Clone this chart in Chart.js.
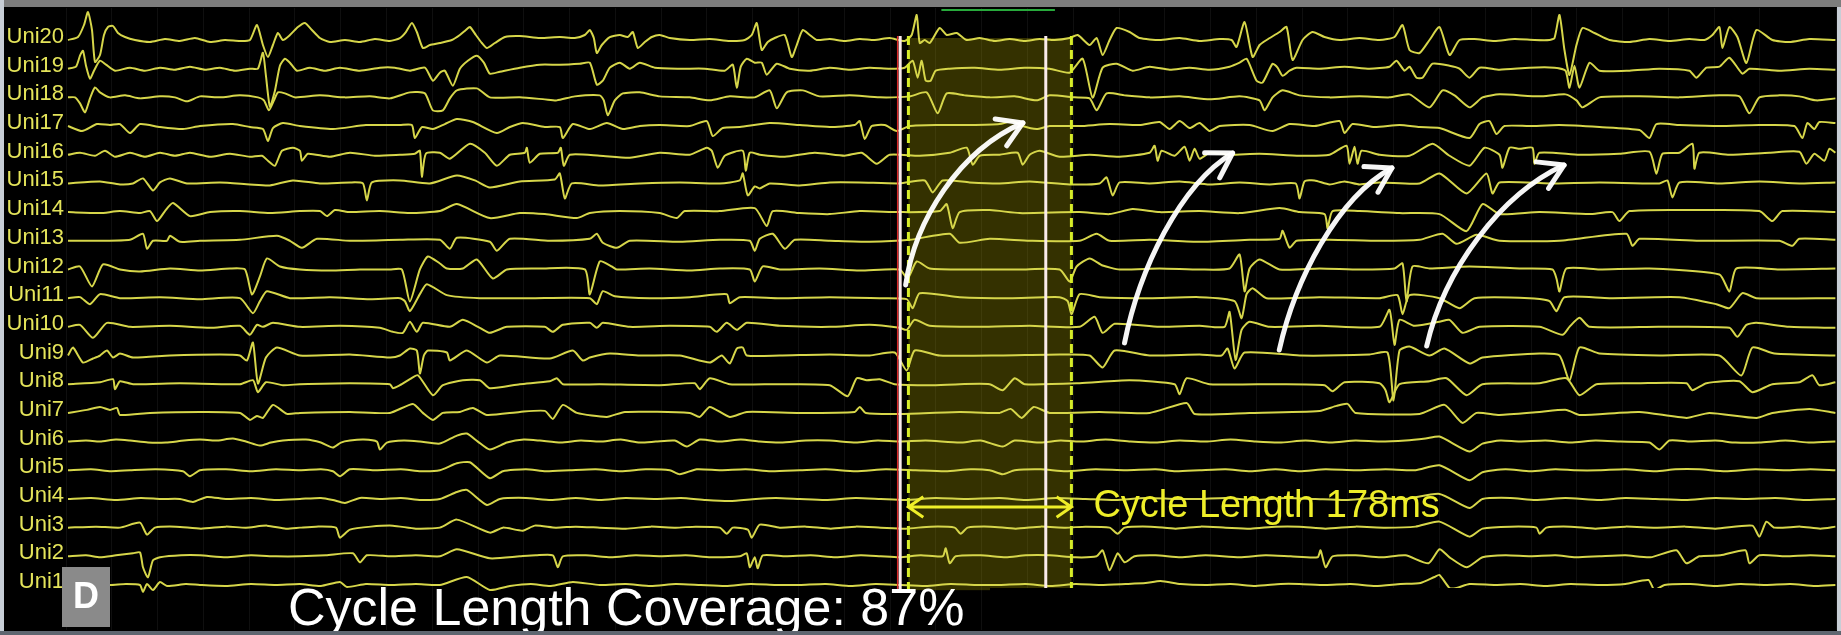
<!DOCTYPE html>
<html lang="en">
  <head>
    <meta charset="UTF-8" />
    <title>Unipolar electrograms</title>
    <script src="https://cdn.jsdelivr.net/npm/chart.js@4.4.1/dist/chart.umd.min.js"></script>
    <style>
      html, body {
        margin: 0;
        padding: 0;
        background: #000;
      }
      .chart-container {
        position: relative;
        width: 1841px;
        height: 635px;
      }
    </style>
  </head>
  <body>
    <div class="chart-container">
      <canvas id="egmChart"></canvas>
    </div>

    <script>
      // recording: [sample index, amplitude] pairs per unipolar channel
      const SAMPLE_RATE = 916; // Hz
      const CYCLE_START = 920; // ms
      const CYCLE_LENGTH = 178; // ms
      const COVERAGE = 87; // %

      const uni20 = [[2,0],[12,3],[18,15],[22,28],[26,10],[29,-22],[34,-15],[38,5],[42,13],[47,14],[52,7],[59,3],[69,0],[84,-2],[99,1],[114,-1],[129,2],[144,-2],[159,0],[174,-1],[184,0],[191,15],[197,-5],[202,-17],[207,-5],[212,7],[217,0],[224,5],[232,13],[239,17],[246,10],[254,2],[264,-2],[279,0],[294,-2],[309,1],[324,-1],[334,2],[340,8],[346,17],[351,8],[357,-8],[364,-5],[374,-3],[386,0],[394,5],[400,10],[404,13],[410,5],[416,-3],[421,-8],[429,-3],[439,3],[454,4],[474,2],[494,3],[509,2],[519,5],[524,10],[528,2],[531,-13],[536,-5],[544,3],[554,5],[562,3],[567,8],[572,-8],[579,-2],[586,3],[594,5],[604,2],[624,0],[644,1],[664,-1],[679,0],[686,5],[691,17],[696,-10],[702,-2],[709,2],[719,5],[726,-17],[731,-5],[737,10],[744,5],[751,0],[764,1],[779,-1],[794,1],[809,0],[824,2],[839,-1],[846,5],[851,25],[854,-3],[859,0],[864,-3],[874,12],[881,5],[891,7],[901,0],[914,2],[929,-1],[944,1],[959,-1],[974,1],[989,0],[1004,2],[1012,5],[1024,-5],[1031,2],[1037,-15],[1044,0],[1051,12],[1064,8],[1074,2],[1094,0],[1114,2],[1134,-1],[1154,1],[1166,0],[1171,-7],[1179,18],[1187,-17],[1194,-5],[1201,0],[1214,8],[1221,13],[1227,-20],[1237,0],[1247,8],[1259,3],[1274,0],[1294,2],[1314,0],[1329,3],[1337,15],[1344,-10],[1354,-13],[1364,0],[1374,13],[1384,-15],[1394,0],[1409,1],[1429,-1],[1449,1],[1469,0],[1484,0],[1489,2],[1494,25],[1499,-10],[1504,-35],[1511,-5],[1517,12],[1529,7],[1544,0],[1564,-2],[1584,1],[1604,-1],[1624,1],[1639,0],[1647,5],[1654,13],[1657,-8],[1664,13],[1672,3],[1681,-23],[1691,10],[1707,0],[1724,-2],[1744,1],[1770,0]];
      const uni19 = [[2,0],[10,2],[14,13],[17,18],[20,3],[24,-10],[28,-2],[34,8],[40,4],[49,-2],[64,1],[79,-2],[94,1],[109,-1],[124,2],[139,-1],[154,1],[169,-2],[184,0],[192,0],[197,16],[200,-7],[204,-38],[209,-22],[214,3],[219,10],[224,6],[231,-2],[244,1],[259,-2],[274,1],[294,-2],[314,1],[329,1],[344,-2],[359,1],[367,-12],[374,-4],[379,-2],[387,-17],[394,0],[402,8],[411,13],[418,6],[424,-5],[434,-3],[454,1],[474,4],[494,4],[514,5],[524,6],[531,-16],[537,-12],[544,1],[554,6],[564,0],[574,6],[589,1],[614,0],[639,0],[659,-2],[667,4],[671,-19],[675,2],[681,10],[689,6],[696,6],[701,-6],[711,5],[724,0],[744,-2],[764,1],[784,-1],[804,1],[824,0],[839,1],[847,8],[852,-9],[856,8],[860,-12],[865,-12],[870,-2],[884,0],[909,1],[934,-1],[959,1],[984,0],[1004,-4],[1017,10],[1027,-29],[1037,1],[1051,5],[1067,-2],[1084,2],[1104,-1],[1124,1],[1144,-1],[1164,2],[1174,6],[1181,10],[1191,-12],[1197,-14],[1207,5],[1212,1],[1217,-7],[1224,-2],[1231,1],[1254,0],[1279,2],[1304,0],[1324,2],[1331,8],[1339,-2],[1344,2],[1351,-9],[1357,-9],[1367,5],[1384,3],[1394,0],[1404,-9],[1414,1],[1434,-1],[1464,1],[1489,1],[1500,-2],[1504,-19],[1509,3],[1514,-19],[1524,6],[1534,-2],[1564,-2],[1594,0],[1624,-2],[1631,-9],[1641,1],[1654,2],[1664,11],[1677,-5],[1684,0],[1714,-2],[1744,0],[1770,-1]];
      const uni18 = [[2,0],[9,0],[14,-6],[19,-15],[24,-1],[29,10],[34,5],[44,0],[59,2],[74,-1],[94,1],[109,0],[121,-4],[134,1],[154,0],[174,2],[192,0],[198,-3],[203,-13],[208,-3],[212,5],[219,4],[229,0],[254,2],[279,0],[304,1],[324,-1],[344,5],[359,4],[367,-13],[377,-13],[384,-1],[391,7],[411,9],[424,0],[454,0],[479,-2],[491,-3],[509,1],[534,2],[538,-3],[542,-18],[549,-3],[557,4],[574,5],[594,1],[624,0],[644,-3],[664,1],[689,0],[704,7],[711,-11],[721,5],[737,7],[754,1],[784,2],[814,0],[844,1],[861,5],[872,-16],[881,4],[899,2],[924,0],[949,1],[971,-3],[984,2],[1009,0],[1024,-1],[1031,-13],[1041,4],[1059,2],[1084,0],[1114,1],[1144,-2],[1174,1],[1194,-3],[1199,-13],[1207,0],[1217,7],[1234,2],[1264,0],[1294,1],[1324,0],[1344,3],[1364,-10],[1377,7],[1389,2],[1404,-10],[1417,0],[1434,3],[1474,1],[1500,3],[1511,-3],[1517,-10],[1534,0],[1574,1],[1614,0],[1654,2],[1674,1],[1684,-16],[1694,0],[1714,2],[1734,1],[1751,-3],[1770,-1]];
      const uni17 = [[2,0],[16,-5],[31,2],[44,1],[54,2],[64,-7],[74,2],[94,-1],[117,-3],[134,0],[167,2],[184,-1],[197,-3],[202,-15],[207,-2],[217,3],[234,0],[267,-3],[300,1],[334,1],[346,1],[349,-12],[356,-1],[367,-3],[379,2],[391,7],[407,4],[431,-7],[444,-1],[457,3],[479,-1],[494,-1],[497,-12],[507,2],[524,-3],[541,3],[557,-3],[574,0],[594,1],[624,0],[641,5],[647,-10],[657,-2],[674,-1],[704,3],[734,1],[764,-1],[789,1],[794,5],[799,-13],[806,0],[819,1],[831,-5],[844,0],[874,1],[904,1],[934,2],[947,5],[957,0],[971,-3],[984,0],[1014,0],[1044,2],[1074,1],[1094,4],[1104,-3],[1114,5],[1124,-2],[1134,3],[1144,-5],[1154,0],[1184,1],[1207,-5],[1224,2],[1249,0],[1274,5],[1279,-7],[1287,2],[1309,-1],[1334,1],[1354,-1],[1374,-2],[1404,-12],[1414,2],[1424,5],[1431,-8],[1439,0],[1464,0],[1494,1],[1534,-1],[1574,-4],[1584,-12],[1591,2],[1614,1],[1654,0],[1694,1],[1729,0],[1737,-12],[1742,3],[1749,-3],[1754,4],[1770,3]];
      const uni16 = [[2,0],[14,2],[29,-1],[39,4],[49,-2],[64,2],[79,-2],[94,2],[109,-1],[124,2],[144,-2],[164,1],[184,-2],[196,-1],[202,-6],[209,-11],[216,4],[227,7],[234,4],[236,-6],[242,1],[264,-2],[284,2],[309,-1],[334,0],[349,1],[354,4],[356,-22],[360,1],[374,2],[384,-4],[404,11],[419,2],[431,-11],[444,0],[459,2],[461,7],[464,-8],[474,1],[492,2],[495,7],[498,-11],[504,0],[534,-1],[564,-3],[594,2],[624,0],[641,7],[646,4],[652,-13],[659,-1],[677,4],[680,-16],[684,2],[694,0],[719,-2],[749,2],[779,-1],[796,2],[811,-9],[824,0],[854,-1],[884,2],[901,7],[907,-10],[914,-1],[934,0],[952,2],[957,-10],[964,0],[974,4],[994,-2],[1024,0],[1054,-2],[1084,2],[1089,9],[1092,-6],[1096,4],[1109,-1],[1119,8],[1124,-6],[1129,6],[1134,-4],[1144,2],[1164,0],[1194,1],[1234,-1],[1264,0],[1281,9],[1284,-9],[1289,8],[1292,-9],[1296,4],[1314,0],[1344,-1],[1367,11],[1384,-1],[1404,-11],[1419,7],[1434,0],[1437,-13],[1444,7],[1454,6],[1467,7],[1469,-9],[1474,2],[1514,0],[1554,1],[1584,3],[1591,-19],[1597,1],[1614,2],[1627,11],[1629,-14],[1634,2],[1664,0],[1704,2],[1734,3],[1741,-9],[1749,1],[1759,-6],[1764,6],[1770,2]];
      const uni15 = [[2,0],[34,2],[54,-1],[67,0],[77,5],[87,-7],[94,1],[104,5],[121,0],[154,1],[184,-1],[204,-2],[227,3],[254,0],[284,1],[297,0],[301,-17],[306,1],[334,3],[364,0],[391,8],[409,3],[424,-4],[454,2],[489,4],[494,10],[499,-15],[506,0],[534,-2],[574,0],[614,1],[654,0],[674,3],[677,10],[682,-12],[689,-3],[694,-5],[704,0],[734,-2],[764,1],[794,1],[834,0],[859,3],[867,-9],[877,3],[904,1],[934,0],[964,2],[1004,-1],[1034,0],[1041,6],[1047,-12],[1054,1],[1084,0],[1114,2],[1144,-1],[1174,1],[1204,-1],[1230,0],[1234,-15],[1239,2],[1249,3],[1264,-1],[1279,2],[1294,-1],[1314,1],[1354,0],[1374,10],[1401,-10],[1421,10],[1427,-10],[1434,1],[1484,0],[1534,1],[1594,0],[1602,3],[1607,-14],[1614,1],[1654,0],[1694,2],[1734,0],[1770,1]];
      const uni14 = [[2,0],[34,-1],[54,1],[74,-1],[84,1],[91,-9],[99,1],[107,9],[124,-4],[144,0],[174,1],[204,-1],[234,1],[254,1],[261,-4],[269,2],[284,0],[314,1],[344,-1],[374,1],[391,8],[424,-6],[454,-1],[479,-2],[511,-6],[524,-1],[554,1],[594,-1],[611,-6],[619,1],[654,1],[689,4],[701,-14],[707,1],[734,-1],[764,-2],[794,1],[834,0],[874,1],[881,8],[887,-16],[894,0],[924,2],[954,-1],[1014,0],[1044,-2],[1067,3],[1094,0],[1134,1],[1174,-1],[1214,4],[1234,0],[1259,-2],[1262,-16],[1267,1],[1294,1],[1334,-1],[1374,-2],[1401,-19],[1417,8],[1434,-2],[1474,0],[1524,-2],[1547,0],[1554,-9],[1564,1],[1634,2],[1694,1],[1707,-9],[1717,1],[1770,0]];
      const uni13 = [[2,0],[34,0],[64,1],[77,7],[81,-8],[87,0],[101,0],[104,5],[114,-1],[134,0],[174,1],[211,5],[224,0],[236,-7],[251,2],[284,0],[334,1],[374,1],[384,-8],[391,3],[424,-1],[431,-10],[444,2],[484,0],[524,2],[531,7],[537,-2],[551,-7],[564,0],[614,-1],[654,1],[684,0],[689,-10],[694,2],[707,7],[719,-8],[729,1],[764,0],[804,-1],[844,1],[884,7],[894,-2],[924,2],[964,0],[1014,0],[1031,7],[1044,0],[1084,1],[1134,-1],[1184,1],[1214,2],[1217,10],[1224,-7],[1231,0],[1264,1],[1314,0],[1354,1],[1377,7],[1391,-3],[1411,6],[1434,0],[1494,0],[1561,7],[1567,-5],[1574,2],[1634,0],[1714,0],[1727,-5],[1734,2],[1770,1]];
      const uni12 = [[2,0],[14,3],[26,-17],[37,5],[54,0],[74,-2],[104,1],[134,-1],[164,1],[179,0],[186,-25],[194,-7],[201,11],[214,3],[234,0],[264,-1],[294,0],[324,0],[336,0],[344,-32],[354,0],[362,13],[374,6],[381,1],[397,1],[411,10],[427,-9],[441,0],[474,1],[519,0],[524,-25],[534,8],[546,3],[551,0],[584,1],[624,-1],[654,1],[684,0],[689,-12],[697,3],[714,0],[754,1],[794,-1],[834,0],[842,-9],[851,8],[864,1],[904,0],[954,0],[994,0],[1004,-12],[1011,3],[1024,11],[1037,4],[1054,0],[1094,1],[1134,0],[1164,1],[1174,15],[1179,-22],[1184,1],[1194,10],[1214,0],[1254,1],[1294,0],[1329,1],[1337,6],[1341,-32],[1347,3],[1364,1],[1404,3],[1454,1],[1487,0],[1491,-9],[1494,-22],[1501,1],[1534,0],[1584,1],[1654,-5],[1664,-22],[1671,1],[1714,0],[1770,1]];
      const uni11 = [[2,0],[14,1],[24,-6],[34,4],[54,0],[94,1],[134,-1],[174,0],[187,-15],[194,-3],[201,7],[224,0],[264,1],[304,-1],[334,0],[339,-3],[344,-13],[354,4],[361,14],[381,3],[414,0],[464,0],[524,0],[531,-6],[537,7],[549,2],[584,0],[624,1],[661,4],[664,-5],[674,1],[714,0],[764,1],[814,0],[841,-1],[847,-10],[854,5],[894,1],[944,0],[994,1],[1002,-3],[1006,-16],[1014,4],[1034,1],[1084,0],[1134,1],[1169,-3],[1176,-20],[1181,4],[1187,10],[1201,0],[1254,1],[1314,0],[1332,3],[1337,-16],[1344,3],[1374,0],[1394,-10],[1409,0],[1464,0],[1484,-3],[1491,-13],[1499,1],[1544,0],[1614,1],[1651,-6],[1664,-10],[1677,5],[1691,0],[1770,0]];
      const uni10 = [[2,0],[14,2],[27,-11],[41,4],[64,0],[104,1],[144,-1],[174,1],[184,-8],[191,2],[197,0],[207,4],[234,0],[274,1],[314,-1],[327,-5],[337,-6],[344,5],[351,-5],[357,4],[384,0],[397,7],[414,-1],[424,-6],[441,0],[479,0],[487,-5],[497,2],[524,4],[531,-1],[537,4],[564,0],[604,1],[644,0],[651,-5],[661,4],[671,-3],[681,4],[714,1],[764,0],[804,2],[834,-1],[841,-3],[849,7],[864,1],[914,0],[964,1],[1014,0],[1029,10],[1037,-6],[1049,3],[1094,0],[1134,1],[1159,0],[1164,15],[1170,-33],[1176,-3],[1184,5],[1204,0],[1254,1],[1314,0],[1324,17],[1329,-18],[1334,7],[1349,1],[1374,5],[1384,7],[1397,-6],[1414,0],[1474,0],[1497,-8],[1504,0],[1514,9],[1524,0],[1594,0],[1664,-1],[1672,-10],[1681,2],[1691,4],[1724,0],[1770,-1]];
      const uni9 = [[2,0],[7,8],[17,-7],[27,-3],[34,0],[41,5],[47,-2],[54,2],[67,-2],[104,0],[154,1],[174,0],[181,-5],[187,13],[192,-28],[200,-2],[211,8],[234,0],[284,1],[324,-2],[334,0],[344,7],[351,5],[354,-18],[358,0],[362,5],[381,3],[384,-5],[401,5],[421,-7],[434,0],[484,-3],[507,5],[517,-5],[524,-2],[544,2],[574,0],[614,0],[644,-7],[656,0],[664,-8],[671,7],[677,8],[681,0],[714,0],[764,1],[804,0],[829,3],[841,-15],[849,5],[874,0],[934,0],[994,1],[1024,0],[1037,-12],[1049,5],[1084,0],[1134,1],[1156,0],[1162,7],[1169,-13],[1179,3],[1234,0],[1304,1],[1322,3],[1328,-45],[1334,5],[1344,9],[1364,0],[1379,7],[1404,-8],[1417,-2],[1474,2],[1494,0],[1504,-25],[1514,8],[1534,2],[1594,0],[1654,0],[1676,-20],[1687,8],[1709,2],[1770,0]];
      const uni8 = [[2,0],[34,2],[47,5],[49,-5],[54,3],[67,0],[114,1],[174,0],[187,4],[192,-8],[200,2],[217,-1],[234,0],[284,1],[324,0],[327,-4],[334,-1],[344,5],[352,9],[367,-11],[377,-1],[397,4],[414,4],[424,-4],[454,0],[484,3],[491,6],[497,0],[534,0],[594,-1],[629,1],[634,-5],[644,6],[664,0],[714,0],[764,-1],[782,-12],[791,6],[801,4],[814,5],[829,0],[864,-1],[894,0],[924,0],[937,-6],[949,6],[959,0],[1014,1],[1064,4],[1109,0],[1114,-10],[1121,6],[1144,0],[1214,0],[1259,-1],[1267,-7],[1279,2],[1314,1],[1320,-6],[1324,-18],[1334,0],[1364,3],[1381,6],[1401,-11],[1417,0],[1474,1],[1501,6],[1514,-11],[1531,0],[1574,1],[1621,1],[1627,-6],[1641,1],[1674,3],[1687,-8],[1707,0],[1734,2],[1747,9],[1754,-1],[1770,2]];
      const uni7 = [[2,0],[21,3],[34,6],[44,3],[51,5],[54,-2],[84,0],[134,1],[174,0],[184,-7],[191,-3],[197,-5],[207,8],[221,-1],[234,0],[284,1],[324,0],[347,9],[357,0],[367,-7],[377,0],[394,1],[407,5],[421,-2],[454,1],[479,2],[487,-6],[497,8],[511,0],[541,-4],[559,1],[624,0],[634,-4],[644,6],[664,-4],[681,1],[734,0],[789,1],[794,6],[800,0],[834,-1],[894,1],[934,0],[945,4],[956,-5],[968,6],[984,0],[1034,1],[1084,0],[1121,10],[1129,-1],[1184,0],[1254,2],[1271,7],[1282,9],[1290,0],[1354,-1],[1379,8],[1397,-10],[1411,0],[1434,-2],[1474,1],[1501,3],[1514,-2],[1574,1],[1621,-5],[1644,0],[1691,-5],[1707,0],[1744,4],[1770,0]];
      const uni6 = [[2,0],[20,1],[34,0],[50,2],[64,1],[82,-1],[100,-1],[118,1],[134,2],[150,1],[167,3],[180,0],[194,-4],[205,-1],[217,1],[240,2],[255,-1],[267,-6],[275,-1],[284,1],[298,2],[311,0],[314,-8],[321,-1],[338,1],[354,0],[374,-2],[391,6],[401,8],[412,0],[424,-8],[441,-1],[458,2],[474,1],[495,-1],[515,1],[534,0],[555,2],[574,-1],[590,0],[609,1],[621,-5],[634,2],[655,0],[675,2],[694,0],[715,-1],[740,1],[764,1],[790,-1],[812,1],[834,0],[860,1],[894,-1],[915,1],[937,-5],[949,1],[975,-1],[995,1],[1014,0],[1040,2],[1065,0],[1090,-1],[1114,1],[1140,0],[1165,2],[1190,0],[1214,-1],[1240,1],[1265,-1],[1290,1],[1314,0],[1340,1],[1360,3],[1374,5],[1404,-10],[1417,-2],[1435,1],[1454,0],[1480,1],[1505,-1],[1530,1],[1555,0],[1584,-1],[1594,-8],[1604,1],[1625,0],[1650,1],[1670,-1],[1694,-1],[1720,1],[1745,-1],[1770,0]];
      const uni5 = [[2,0],[25,1],[45,-1],[64,0],[90,1],[117,-1],[124,-6],[134,0],[160,1],[185,-1],[210,1],[234,0],[255,1],[267,-1],[274,-6],[284,1],[310,0],[335,1],[355,-1],[374,0],[391,7],[404,8],[424,-8],[437,-1],[460,1],[480,-1],[504,0],[530,1],[555,-1],[580,1],[604,0],[614,-4],[631,1],[655,0],[680,1],[705,-1],[734,0],[760,1],[790,-1],[820,1],[850,0],[880,-1],[905,1],[924,0],[937,-4],[949,0],[975,1],[1000,-1],[1030,1],[1060,0],[1090,1],[1110,-1],[1134,0],[1160,1],[1185,-1],[1210,1],[1234,-1],[1260,1],[1290,0],[1320,1],[1350,0],[1374,5],[1404,-10],[1417,-2],[1440,1],[1465,-1],[1490,1],[1510,0],[1534,0],[1560,1],[1590,-1],[1610,1],[1634,1],[1660,-1],[1690,1],[1720,0],[1745,1],[1770,0]];
      const uni4 = [[2,0],[25,1],[50,-1],[75,1],[95,0],[114,0],[127,-3],[141,2],[160,0],[185,1],[210,-1],[234,0],[255,1],[267,-1],[279,-4],[294,1],[315,0],[335,1],[355,-1],[374,0],[391,7],[401,9],[421,-6],[434,0],[460,1],[485,-1],[510,1],[534,-1],[560,1],[590,0],[615,1],[640,-1],[664,-2],[690,0],[710,1],[734,0],[760,-1],[790,1],[815,0],[840,-1],[870,1],[900,0],[934,1],[960,-1],[990,1],[1020,0],[1050,-1],[1080,1],[1110,0],[1134,0],[1160,1],[1190,-1],[1220,1],[1250,0],[1280,-1],[1310,1],[1340,0],[1374,5],[1404,-9],[1417,0],[1445,1],[1470,-1],[1500,1],[1534,-1],[1560,1],[1590,0],[1620,-1],[1650,1],[1680,0],[1710,1],[1740,-1],[1770,0]];
      const uni3 = [[2,0],[30,1],[54,0],[74,5],[81,-7],[89,0],[110,1],[135,-1],[160,1],[180,0],[201,2],[220,-1],[234,0],[250,1],[270,0],[274,-10],[284,-2],[305,1],[327,2],[350,-1],[374,0],[391,8],[424,-5],[437,0],[457,-3],[469,2],[490,0],[510,1],[534,0],[560,-1],[585,1],[610,0],[630,1],[654,0],[661,-6],[667,0],[682,-2],[686,-10],[694,3],[714,0],[740,1],[765,-1],[790,1],[815,0],[840,-1],[865,1],[889,0],[895,-6],[902,0],[925,1],[950,-1],[975,1],[1000,0],[1020,1],[1044,0],[1052,-6],[1059,0],[1085,1],[1110,-1],[1135,1],[1160,0],[1185,-1],[1210,1],[1234,1],[1260,-1],[1290,1],[1320,0],[1350,1],[1374,6],[1404,-9],[1417,-1],[1445,1],[1471,0],[1474,-6],[1481,0],[1505,1],[1530,-1],[1560,1],[1590,0],[1620,1],[1650,-1],[1687,2],[1694,-9],[1701,6],[1709,0],[1735,1],[1755,-1],[1770,1]];
      const uni2 = [[2,0],[20,1],[34,-1],[50,1],[67,3],[74,4],[77,-11],[82,-21],[87,-4],[94,-1],[115,1],[134,1],[160,-1],[185,1],[210,0],[234,0],[260,1],[287,3],[294,-6],[301,1],[325,0],[350,1],[374,0],[391,7],[424,-2],[454,0],[470,1],[487,1],[492,-11],[497,0],[520,1],[545,-1],[570,1],[595,0],[620,1],[645,-1],[674,0],[681,3],[684,-11],[689,-1],[692,-12],[697,1],[720,0],[745,1],[770,-1],[795,1],[815,0],[834,-1],[855,1],[877,0],[880,8],[884,-7],[890,0],[915,1],[940,-1],[960,1],[984,1],[1010,-1],[1031,0],[1037,6],[1044,-14],[1052,3],[1059,-6],[1069,0],[1090,1],[1115,-1],[1140,1],[1174,-1],[1200,1],[1225,0],[1252,-1],[1255,6],[1260,-11],[1267,0],[1290,1],[1315,-1],[1340,1],[1363,-7],[1374,7],[1384,-1],[1401,-11],[1417,-1],[1440,1],[1465,0],[1490,1],[1510,-1],[1534,0],[1560,1],[1585,-1],[1611,6],[1621,-7],[1634,0],[1655,1],[1680,6],[1684,-7],[1694,1],[1720,0],[1745,1],[1770,0]];
      const uni1 = [[2,0],[20,1],[44,0],[60,1],[74,0],[77,-7],[81,1],[87,-5],[94,3],[101,-1],[120,1],[134,0],[160,-1],[185,1],[210,0],[234,1],[255,-1],[274,3],[281,-2],[300,1],[324,0],[350,1],[374,0],[401,8],[424,-5],[444,-1],[465,1],[485,-1],[507,3],[534,0],[560,1],[585,-1],[610,1],[635,0],[660,-1],[685,1],[710,0],[734,0],[760,1],[785,-1],[810,1],[835,0],[860,-1],[885,1],[910,0],[934,0],[960,1],[985,-1],[1010,1],[1035,0],[1060,1],[1080,2],[1095,4],[1115,1],[1140,0],[1165,1],[1190,-1],[1215,1],[1234,1],[1260,0],[1285,1],[1310,-1],[1335,1],[1355,2],[1369,8],[1374,10],[1384,-3],[1391,-3],[1404,1],[1430,0],[1455,1],[1480,-1],[1505,1],[1534,0],[1560,1],[1583,5],[1589,-5],[1599,0],[1625,1],[1650,-1],[1675,1],[1700,0],[1725,1],[1750,-1],[1770,0]];

      const channels = [uni1, uni2, uni3, uni4, uni5, uni6, uni7, uni8, uni9, uni10,
                        uni11, uni12, uni13, uni14, uni15, uni16, uni17, uni18, uni19, uni20];
      const channelNames = channels.map((_, i) => "Uni" + (i + 1));

      // white propagation arrows, [ms, channel] bezier points
      const propagationArrows = [
        [[917, 11.46], [927, 13.72], [976, 16.16], [1045, 17.11]],
        [[1156, 9.44], [1172, 11.98], [1216, 14.94], [1274, 16.06]],
        [[1325, 9.19], [1342, 11.63], [1388, 14.49], [1448, 15.54]],
        [[1486, 9.33], [1505, 11.98], [1566, 14.6], [1636, 15.64]],
      ];
      const markerTimes = [911, 1070]; // solid window markers, ms

      const GAP = 28.68; // vertical spacing between channels
      const Y_MAX = 20 * GAP + 32;
      const Y_MIN = GAP - 45;
      const T_MAX = 1933;

      const traceColor = "rgb(214, 214, 74)";

      const datasets = channels.map((pts, i) => ({
        label: channelNames[i],
        data: pts.map(([s, v]) => ({ x: (s * 1000) / SAMPLE_RATE, y: (i + 1) * GAP + v })),
        borderColor: traceColor,
        borderWidth: 2,
        pointRadius: 0,
        tension: 0.2,
      }));

      function arrowHead(ctx, x, y, ang, len, spread) {
        ctx.moveTo(x + len * Math.cos(ang + Math.PI - spread), y + len * Math.sin(ang + Math.PI - spread));
        ctx.lineTo(x, y);
        ctx.lineTo(x + len * Math.cos(ang + Math.PI + spread), y + len * Math.sin(ang + Math.PI + spread));
      }

      const overlay = {
        id: "overlay",
        beforeDraw(chart) {
          const ctx = chart.ctx;
          ctx.save();
          ctx.fillStyle = "#000";
          ctx.fillRect(0, 0, chart.width, chart.height);
          ctx.restore();
        },
        beforeDatasetsDraw(chart) {
          const ctx = chart.ctx;
          const x = chart.scales.x, y = chart.scales.y;
          // shaded cycle window
          const x0 = x.getPixelForValue(CYCLE_START);
          const x1 = x.getPixelForValue(CYCLE_START + CYCLE_LENGTH);
          const yt = y.getPixelForValue(20.07 * GAP);
          const yb = y.getPixelForValue(0.82 * GAP);
          ctx.save();
          ctx.fillStyle = "rgba(235, 222, 0, 0.22)";
          ctx.fillRect(x0, yt, x1 - x0, yb - yt);
          ctx.restore();
        },
        afterDatasetsDraw(chart) {
          const ctx = chart.ctx;
          const x = chart.scales.x, y = chart.scales.y;
          const area = chart.chartArea;
          const X = (t) => x.getPixelForValue(t);
          const Y = (c) => y.getPixelForValue(c * GAP);

          ctx.save();

          // solid window markers
          const lt = Y(20.14), lb = Y(0.72);
          ctx.lineWidth = 1.5;
          ctx.strokeStyle = "rgb(220, 40, 40)";
          ctx.beginPath();
          ctx.moveTo(X(markerTimes[0]) - 2.5, lt);
          ctx.lineTo(X(markerTimes[0]) - 2.5, lb);
          ctx.stroke();
          ctx.lineWidth = 3;
          ctx.strokeStyle = "rgb(250, 235, 235)";
          markerTimes.forEach((t) => {
            ctx.beginPath();
            ctx.moveTo(X(t), lt);
            ctx.lineTo(X(t), lb);
            ctx.stroke();
          });

          // dashed cycle boundaries
          ctx.setLineDash([9, 5]);
          ctx.strokeStyle = "rgb(214, 236, 40)";
          [CYCLE_START, CYCLE_START + CYCLE_LENGTH].forEach((t) => {
            ctx.beginPath();
            ctx.moveTo(X(t), lt);
            ctx.lineTo(X(t), lb);
            ctx.stroke();
          });
          ctx.setLineDash([]);

          // green bar above the window
          ctx.strokeStyle = "rgb(40, 170, 60)";
          ctx.lineWidth = 2;
          ctx.beginPath();
          ctx.moveTo(X(956), Y(21.05));
          ctx.lineTo(X(1080), Y(21.05));
          ctx.stroke();

          // cycle length double arrow
          const ay = Y(3.72);
          const ax0 = X(CYCLE_START), ax1 = X(CYCLE_START + CYCLE_LENGTH);
          ctx.strokeStyle = "rgb(238, 238, 40)";
          ctx.lineWidth = 3;
          ctx.beginPath();
          ctx.moveTo(ax0, ay);
          ctx.lineTo(ax1, ay);
          arrowHead(ctx, ax1, ay, 0, 18, 0.6);
          ctx.moveTo(ax0, ay);
          arrowHead(ctx, ax0, ay, Math.PI, 18, 0.6);
          ctx.stroke();
          ctx.fillStyle = "rgb(238, 238, 40)";
          ctx.font = "38px 'Liberation Sans', Arial, sans-serif";
          ctx.textBaseline = "middle";
          ctx.textAlign = "left";
          ctx.fillText("Cycle Length " + CYCLE_LENGTH + "ms", ax1 + 22, ay);

          // propagation arrows
          ctx.strokeStyle = "rgba(255, 255, 255, 0.96)";
          ctx.lineWidth = 5;
          ctx.lineCap = "round";
          ctx.lineJoin = "round";
          propagationArrows.forEach((pts) => {
            const p = pts.map(([t, c]) => [X(t), Y(c)]);
            ctx.beginPath();
            ctx.moveTo(p[0][0], p[0][1]);
            ctx.bezierCurveTo(p[1][0], p[1][1], p[2][0], p[2][1], p[3][0], p[3][1]);
            ctx.stroke();
            const ang = Math.atan2(p[3][1] - p[2][1], p[3][0] - p[2][0]);
            ctx.beginPath();
            arrowHead(ctx, p[3][0], p[3][1], ang, 28, 0.55);
            ctx.stroke();
          });
          ctx.lineCap = "butt";

          // panel letter
          ctx.fillStyle = "rgb(138, 138, 138)";
          ctx.fillRect(area.left - 4, area.bottom - 63, 48, 60);
          ctx.fillStyle = "#fff";
          ctx.font = "bold 36px 'Liberation Sans', Arial, sans-serif";
          ctx.textAlign = "center";
          ctx.textBaseline = "middle";
          ctx.fillText("D", area.left + 20, area.bottom - 32);

          // coverage caption
          ctx.fillStyle = "#000";
          ctx.fillRect(area.left + 924, area.bottom - 42, area.right - area.left - 924, 42);
          ctx.fillStyle = "#fff";
          ctx.font = "52px 'Liberation Sans', Arial, sans-serif";
          ctx.textAlign = "left";
          ctx.textBaseline = "alphabetic";
          ctx.fillText("Cycle Length Coverage: " + COVERAGE + "%", area.left + 222, area.bottom - 5);

          // window frame
          ctx.fillStyle = "rgb(125, 125, 125)";
          ctx.fillRect(0, 0, chart.width, area.top - 1);
          ctx.fillStyle = "rgb(200, 206, 214)";
          ctx.fillRect(0, 0, 4, chart.height);
          ctx.fillRect(area.right + 1, area.top - 1, chart.width - area.right - 1, chart.height);
          ctx.fillStyle = "rgb(95, 102, 112)";
          ctx.fillRect(0, area.bottom + 1, chart.width, chart.height - area.bottom - 1);

          ctx.restore();
        },
      };

      new Chart(document.getElementById("egmChart"), {
        type: "line",
        data: { datasets: datasets },
        options: {
          responsive: true,
          maintainAspectRatio: false,
          animation: false,
          layout: { padding: { top: 8, right: 5, bottom: 5, left: 0 } },
          plugins: {
            legend: { display: false },
            tooltip: { enabled: false },
          },
          scales: {
            x: {
              type: "linear",
              min: 0,
              max: T_MAX,
              border: { display: false },
              grid: { color: "rgba(255, 255, 255, 0.06)", drawTicks: false },
              ticks: { display: false, stepSize: 50 },
              afterFit: (scale) => {
                scale.height = 0;
              },
            },
            y: {
              type: "linear",
              min: Y_MIN,
              max: Y_MAX,
              border: { display: false },
              grid: { display: false, drawTicks: false },
              afterBuildTicks: (scale) => {
                scale.ticks = channels.map((_, i) => ({ value: (i + 1) * GAP }));
              },
              afterFit: (scale) => {
                scale.width = 66;
                scale.paddingTop = 0;
                scale.paddingBottom = 0;
              },
              ticks: {
                autoSkip: false,
                padding: 2,
                labelOffset: -3,
                color: "rgb(228, 228, 90)",
                font: { family: "'Liberation Sans', Arial, sans-serif", size: 22 },
                callback: (v) => "Uni" + Math.round(v / GAP),
              },
            },
          },
        },
        plugins: [overlay],
      });
    </script>
  </body>
</html>
